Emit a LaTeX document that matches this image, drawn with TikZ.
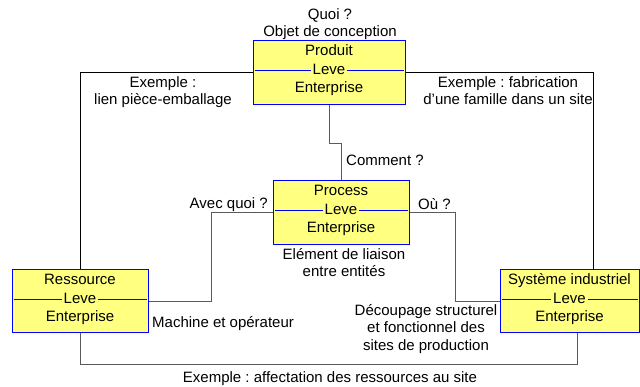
\documentclass[tikz,border=0pt]{standalone}
\usepackage{fontspec}
\setmainfont{Liberation Sans}
\frenchspacing
\definecolor{boxyellow}{RGB}{255,255,128}
\definecolor{boxblue}{RGB}{0,0,255}
\definecolor{linegray}{RGB}{90,90,90}
\begin{document}
\begin{tikzpicture}[x=1pt,y=-1pt,
  font=\fontsize{15}{17}\selectfont,
  entbox/.style={draw=boxblue, fill=boxyellow, line width=1pt, inner sep=0pt},
  midline/.style={draw=boxblue, line width=1pt},
  leve/.style={fill=boxyellow, inner xsep=2pt, inner ysep=0pt, anchor=base},
  btxt/.style={inner sep=0pt, anchor=base},
  txt/.style={inner sep=0pt, anchor=base},
  conn/.style={draw=black, line width=1pt},
  conng/.style={draw=linegray, line width=1pt}
]
\useasboundingbox (0,0) rectangle (640,387);

% boxes
\node[entbox, minimum width=152pt, minimum height=64pt] (produit) at (329,73) {};
\node[entbox, minimum width=136pt, minimum height=64pt] (process) at (341,213) {};
\node[entbox, minimum width=136pt, minimum height=63pt] (ressource) at (80,301.5) {};
\node[entbox, minimum width=139pt, minimum height=63pt] (systeme) at (569.5,301.5) {};

% mid lines
\draw[midline] ([xshift=2pt,yshift=2pt]produit.west) -- ([xshift=-2pt,yshift=2pt]produit.east);
\draw[midline] ([xshift=2pt,yshift=2pt]process.west) -- ([xshift=-2pt,yshift=2pt]process.east);
\draw[midline] ([xshift=2pt,yshift=1.5pt]ressource.west) -- ([xshift=-2pt,yshift=1.5pt]ressource.east);
\draw[midline] ([xshift=2pt,yshift=1.5pt]systeme.west) -- ([xshift=-2pt,yshift=1.5pt]systeme.east);

% box texts
\node[btxt] (produitA) at (329,56) {Produit};
\node[leve] (produitB) at (329,75) {Leve};
\node[btxt] (produitC) at (329,93) {Enterprise};

\node[btxt] (processA) at (341,196) {Process};
\node[leve] (processB) at (341,215) {Leve};
\node[btxt] (processC) at (341,233) {Enterprise};

\node[btxt] (ressourceA) at (80,285) {Ressource};
\node[leve] (ressourceB) at (80,304) {Leve};
\node[btxt] (ressourceC) at (80,322) {Enterprise};

\node[btxt] (systemeA) at (569.5,285) {Système industriel};
\node[leve] (systemeB) at (569.5,304) {Leve};
\node[btxt] (systemeC) at (569.5,322) {Enterprise};

% connectors
\coordinate (sysTop) at (593,270);
\draw[conn] (produit.west) -| (ressource.north);
\draw[conn] (produit.east) -| (sysTop);
\draw[conng] (produit.south) -- ++(0,38) -| (process.north);
\draw[conng] (process.west) -- ++(-61,0) |- (ressource.east);
\draw[conng] (process.east) -- ++(46,0) |- (systeme.west);
\draw[conng] (ressource.south) -- ++(0,31) -| ([xshift=7.5pt]systeme.south);

% labels
\node[txt] (quoi) at (330,20) {Quoi ?};
\node[txt] (objet) at (330,37) {Objet de conception};
\node[txt] (ex1a) at (163,88) {Exemple :};
\node[txt] (ex1b) at (163,105) {lien pièce-emballage};
\node[txt] (ex2a) at (508,88) {Exemple : fabrication};
\node[txt] (ex2b) at (508,105) {d'une famille dans un site};
\node[txt, anchor=base west] (comment) at (346,166) {Comment ?};
\node[txt, anchor=base east] (avec) at (268,209) {Avec quoi ?};
\node[txt, anchor=base west] (ou) at (418,210) {Où ?};
\node[txt] (elemA) at (344,260) {Elément de liaison};
\node[txt] (elemB) at (344,277) {entre entités};
\node[txt, anchor=base west] (machine) at (152,327) {Machine et opérateur};
\node[txt] (decA) at (426,316) {Découpage structurel};
\node[txt] (decB) at (426,333) {et fonctionnel des};
\node[txt] (decC) at (426,350) {sites de production};
\node[txt] (ex3) at (330,382) {Exemple : affectation des ressources au site};
\end{tikzpicture}
\end{document}
